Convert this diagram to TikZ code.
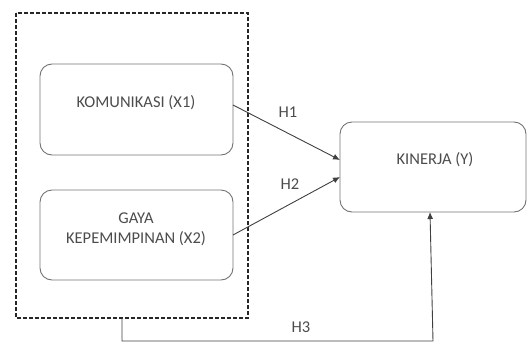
\documentclass[tikz,border=0pt]{standalone}
\usepackage{fontspec}
\setmainfont{Carlito}
\usetikzlibrary{arrows.meta}
\begin{document}
\begin{tikzpicture}[x=1pt,y=-1pt,
  box/.style={draw=black!55,line width=0.9pt,rounded corners=12pt},
  lbl/.style={text=black!70,font=\fontsize{16.5}{20}\selectfont,align=center,inner sep=0pt},
  conn/.style={draw=black!75,line width=0.9pt,-{Latex[length=7pt,width=6pt]}}]
\useasboundingbox (0,0) rectangle (527,343);
\draw[black!85,line width=1.4pt,dash pattern=on 4pt off 2pt] (16,13) rectangle (248,318);
\draw[box] (40,64) rectangle (233,155);
\draw[box] (40,190) rectangle (233,280);
\draw[box] (340,122) rectangle (526,212);
\node[lbl] (x1) at (136,103) {KOMUNIKASI (X1)};
\node[lbl] (x2) at (136,229) {GAYA\\KEPEMIMPINAN (X2)};
\node[lbl] (y) at (435,160) {KINERJA (Y)};
\coordinate (a1) at (233,105);
\coordinate (a2) at (233,235);
\coordinate (b1) at (340,160);
\coordinate (b2) at (340,177);
\coordinate (c0) at (122,318);
\coordinate (c1) at (122,341);
\coordinate (c2) at (433,341);
\coordinate (c3) at (430,212);
\draw[conn] (a1) -- (b1);
\draw[conn] (a2) -- (b2);
\draw[conn] (c0) -- (c1) -- (c2) -- (c3);
\node[lbl] (h1) at (288,112) {H1};
\node[lbl] (h2) at (290,184) {H2};
\node[lbl] (h3) at (301,327) {H3};
\end{tikzpicture}
\end{document}
